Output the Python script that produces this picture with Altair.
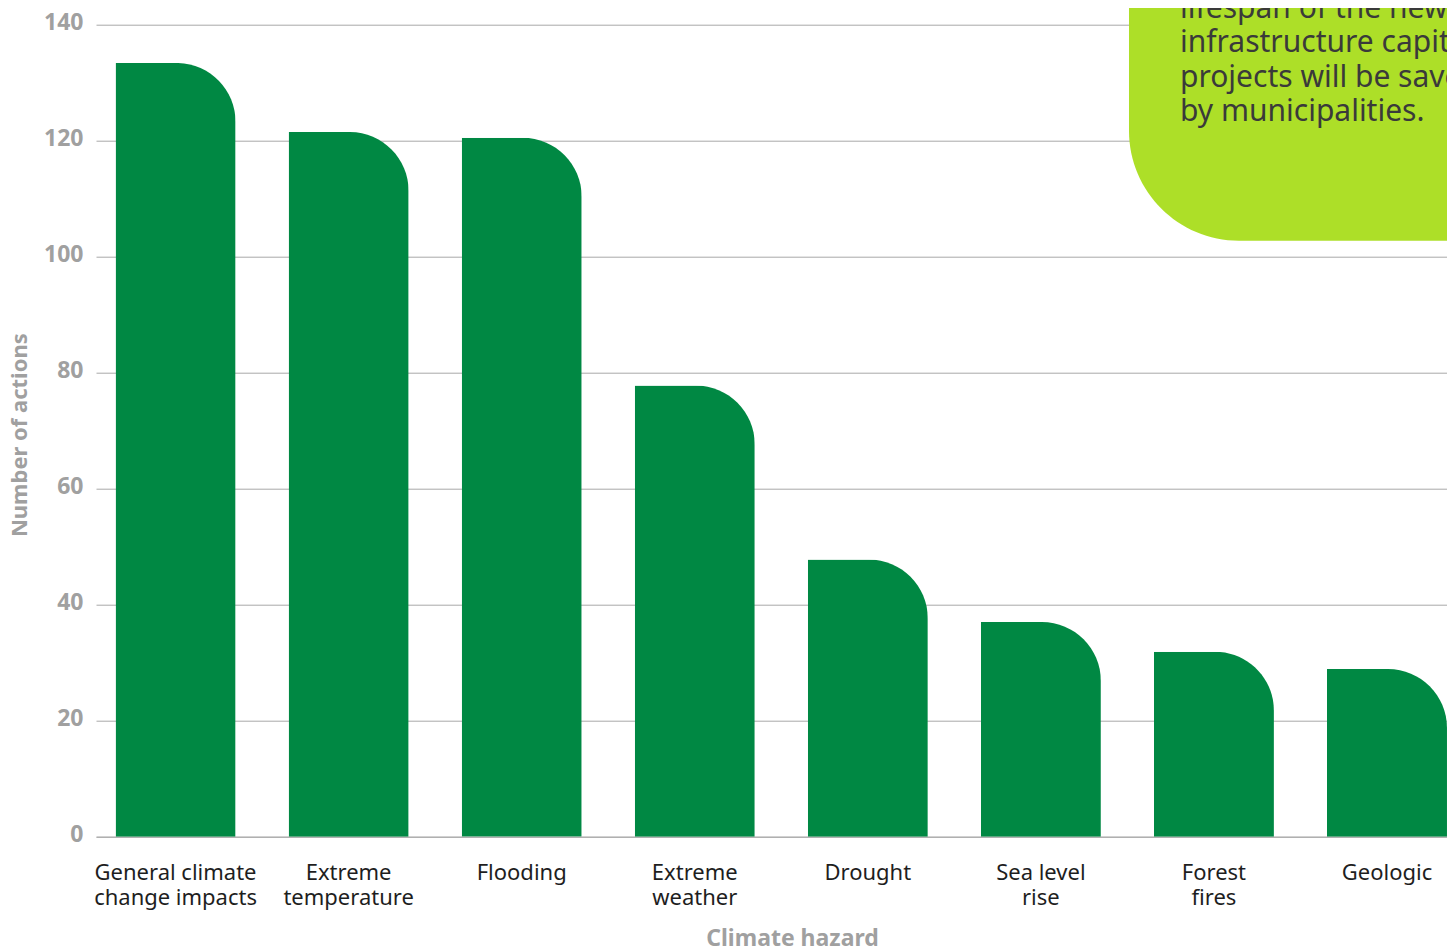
import altair as alt
import pandas as pd

# ---- data ----
hazards = [
    "General climate|change impacts",
    "Extreme|temperature",
    "Flooding",
    "Extreme|weather",
    "Drought",
    "Sea level|rise",
    "Forest|fires",
    "Geologic",
]
actions = [133.4, 121.5, 120.5, 77.8, 47.8, 37.0, 31.9, 28.9]
y_ticks = [0, 20, 40, 60, 80, 100, 120, 140]
callout_lines = [
    "lifespan of the new",
    "infrastructure capital",
    "projects will be saved",
    "by municipalities.",
]

df = pd.DataFrame({"hazard": hazards, "actions": actions})

W, H = 1351, 812
GREEN = "#008843"
LIME = "#ADDF28"
GRAY = "#a0a0a0"

bars = alt.Chart(df).mark_bar(color=GREEN, cornerRadiusTopRight=59).encode(
    x=alt.X(
        "hazard:N",
        sort=hazards,
        scale=alt.Scale(paddingInner=0.3064, paddingOuter=0.0564, align=1),
        axis=alt.Axis(
            title="Climate hazard",
            labelExpr="split(datum.label, '|')",
            labelAngle=0,
            labelFont="Noto Sans",
            labelFontSize=22,
            labelColor="#1e1e1e",
            labelLineHeight=25,
            labelPadding=26,
            ticks=False,
            domain=True,
            domainColor="#a8a8a8",
            domainWidth=1,
            titleFont="Noto Sans",
            titleFontSize=23,
            titleFontWeight="bold",
            titleColor=GRAY,
            titleX=696,
            titleY=102,
            titleBaseline="middle",
            titleAlign="center",
        ),
    ),
    y=alt.Y(
        "actions:Q",
        scale=alt.Scale(domain=[0, 140], nice=False),
        axis=alt.Axis(
            values=y_ticks,
            title="Number of actions",
            grid=True,
            gridColor="#a8a8a8",
            gridWidth=1,
            domain=False,
            ticks=False,
            labelPadding=13,
            labelFont="Noto Sans",
            labelFontSize=23,
            labelFontWeight="bold",
            labelColor=GRAY,
            labelOffset=-2,
            titleFont="Noto Sans",
            titleFontSize=22,
            titleFontWeight="bold",
            titleColor=GRAY,
            titleX=-77,
            titleY=410,
            titleAngle=270,
            titleAlign="center",
            titleBaseline="middle",
        ),
    ),
)

note = alt.Chart(pd.DataFrame({"t": ["\n".join(callout_lines)]}))

callout_box = note.mark_rect(color=LIME, cornerRadiusBottomLeft=110).encode(
    x=alt.value(1033), x2=alt.value(1500), y=alt.value(-60), y2=alt.value(216)
)
callout_text = note.mark_text(
    align="left",
    baseline="alphabetic",
    font="Noto Sans",
    fontSize=30,
    color="#3a3a3a",
    lineBreak="\n",
    lineHeight=34.5,
).encode(x=alt.value(1084), y=alt.value(-6.7), text="t:N")

chart = (
    alt.layer(bars, callout_box, callout_text)
    .properties(
        width=W,
        height=H,
        autosize=alt.AutoSizeParams(type="none"),
        padding={"left": 88, "top": 16.7, "right": 0, "bottom": 112},
    )
    .configure_view(stroke=None)
)

chart.save("out.html", embed_options={"renderer": "svg", "actions": False})
